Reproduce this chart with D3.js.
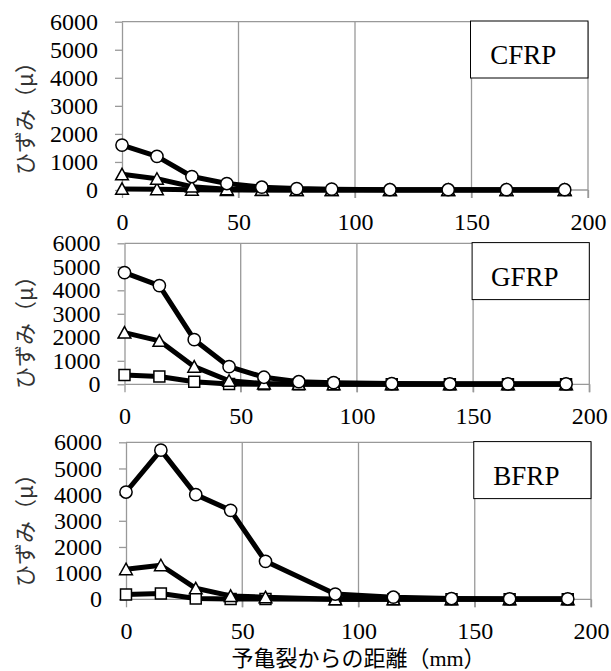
<!DOCTYPE html>
<html>
  <head>
    <meta charset="utf-8">
    <title>ひずみ分布</title>
    <script src="https://cdn.jsdelivr.net/npm/d3@7/dist/d3.min.js"></script>
    <style>
      html, body {
        margin:0;
        padding:0;
        background:#fff;
      }
    </style>
  </head>
  <body>
    <svg id="chart" width="611" height="671"></svg>

    <script>
      // distance from the pre-crack (mm)
      var distance = [0, 15, 30, 45, 60, 75, 90, 115, 140, 165, 190];
      var distanceB = [0, 15, 30, 45, 60, 90, 115, 140, 165, 190];

      // strain (μ)
      var cfrpLow  = [40, 30, 10, 0, 0, 0, 0, 0, 0, 0, 0];
      var cfrpMid  = [560, 400, 120, 30, 10, 0, 0, 0, 0, 0, 0];
      var cfrpHigh = [1600, 1200, 480, 230, 100, 50, 30, 10, 10, 10, 10];

      var gfrpLow  = [400, 330, 110, 10, 0, 0, 0, 0, 0, 0, 0];
      var gfrpMid  = [2200, 1850, 750, 150, 30, 10, 0, 0, 0, 0, 0];
      var gfrpHigh = [4750, 4200, 1900, 750, 300, 110, 70, 30, 20, 20, 20];

      var bfrpLow  = [180, 220, 30, 10, 10, 0, 0, 0, 0, 0];
      var bfrpMid  = [1150, 1300, 420, 130, 80, 0, 0, 0, 0, 0];
      var bfrpHigh = [4100, 5700, 4000, 3400, 1450, 200, 80, 30, 20, 20];

      var yTicks = [0, 1000, 2000, 3000, 4000, 5000, 6000];
      var xTicks = [0, 50, 100, 150, 200];
      var panelNames = ["CFRP", "GFRP", "BFRP"];
      var yLabel = "ひずみ（μ）";
      var xLabel = "予亀裂からの距離（mm）";

      var panels = [
        { name: panelNames[0], xs: distance, left: 122, right: 588, top: 21.7, bottom: 190, labelY: 113,
          series: [ { v: cfrpLow, m: "triangle" }, { v: cfrpMid, m: "triangle" }, { v: cfrpHigh, m: "circle" } ] },
        { name: panelNames[1], xs: distance, left: 124.5, right: 589.3, top: 243.3, bottom: 384.3, labelY: 327,
          series: [ { v: gfrpLow, m: "square" }, { v: gfrpMid, m: "triangle" }, { v: gfrpHigh, m: "circle" } ] },
        { name: panelNames[2], xs: distanceB, left: 126, right: 591, top: 442.3, bottom: 599.3, labelY: 525,
          series: [ { v: bfrpLow, m: "square" }, { v: bfrpMid, m: "triangle" }, { v: bfrpHigh, m: "circle" } ] }
      ];

      var serif = '"Liberation Serif", "Times New Roman", serif';

      // triangle centred on its bounding box, like Excel
      var triangle = {
        draw: function(ctx, size) {
          var h = Math.sqrt(size);
          ctx.moveTo(0, -h * 0.55);
          ctx.lineTo(h * 0.58, h * 0.5);
          ctx.lineTo(-h * 0.58, h * 0.5);
          ctx.closePath();
        }
      };
      var symbols = {
        circle: d3.symbol().type(d3.symbolCircle).size(118),
        square: d3.symbol().type(d3.symbolSquare).size(120),
        triangle: d3.symbol().type(triangle).size(120)
      };

      var svg = d3.select("#chart");
      var gridColor = "#999";

      panels.forEach(function(p) {
        var x = d3.scaleLinear().domain([0, 200]).range([p.left, p.right]);
        var y = d3.scaleLinear().domain([0, 6000]).range([p.bottom, p.top]);
        var g = svg.append("g");

        // vertical gridlines, extended a little below the zero line
        g.selectAll("line.grid").data(xTicks.slice(1)).enter().append("line")
          .attr("class", "grid")
          .attr("x1", function(d) { return x(d); }).attr("x2", function(d) { return x(d); })
          .attr("y1", p.top).attr("y2", p.bottom + 8)
          .attr("stroke", gridColor).attr("stroke-width", 1.3);

        // top border
        g.append("line")
          .attr("x1", p.left).attr("x2", p.right)
          .attr("y1", p.top).attr("y2", p.top)
          .attr("stroke", gridColor).attr("stroke-width", 1.3);

        // zero line
        g.append("line")
          .attr("x1", p.left).attr("x2", p.right)
          .attr("y1", y(0)).attr("y2", y(0))
          .attr("stroke", gridColor).attr("stroke-width", 1.3);

        var yAxis = g.append("g")
          .attr("transform", "translate(" + p.left + ",0)")
          .call(d3.axisLeft(y).tickValues(yTicks).tickFormat(d3.format("d"))
            .tickSize(7).tickSizeOuter(0).tickPadding(17));
        var xAxis = g.append("g")
          .attr("transform", "translate(0," + p.bottom + ")")
          .call(d3.axisBottom(x).tickValues(xTicks).tickFormat(d3.format("d"))
            .tickSize(8).tickSizeOuter(0).tickPadding(15));

        [yAxis, xAxis].forEach(function(a) {
          a.attr("font-family", serif).attr("font-size", 24);
          a.select(".domain").attr("stroke", gridColor).attr("stroke-width", 1.3);
          a.selectAll(".tick line").attr("stroke", gridColor).attr("stroke-width", 1.3);
          a.selectAll(".tick text")
            .attr("fill", "#000")
            .style("font-family", serif);
        });
        xAxis.select(".domain").remove();

        // series: line then markers
        var line = d3.line()
          .x(function(d, i) { return x(p.xs[i]); })
          .y(function(d) { return y(d); });

        p.series.forEach(function(s) {
          g.append("path")
            .datum(s.v)
            .attr("d", line)
            .attr("fill", "none")
            .attr("stroke", "#000")
            .attr("stroke-width", 5)
            .attr("stroke-linejoin", "round");

          g.selectAll(null).data(s.v).enter().append("path")
            .attr("d", symbols[s.m])
            .attr("transform", function(d, i) { return "translate(" + x(p.xs[i]) + "," + y(d) + ")"; })
            .attr("fill", "#fff")
            .attr("stroke", "#000")
            .attr("stroke-width", 1.5);
        });

        // name box in the top-right corner
        var bx = x(150) - 1, bw = p.right - bx, by = p.top - 0.7, bh = 57;
        g.append("rect")
          .attr("x", bx).attr("y", by).attr("width", bw).attr("height", bh)
          .attr("fill", "#fff").attr("stroke", "#000").attr("stroke-width", 1);
        g.append("text")
          .attr("x", bx + bw / 2 - 6).attr("y", by + 43)
          .attr("text-anchor", "middle")
          .attr("font-family", serif)
          .attr("font-size", 27)
          .text(p.name);

        // y label
        g.append("text")
          .attr("transform", "translate(25," + p.labelY + ") rotate(-90)")
          .attr("text-anchor", "middle")
          .attr("dy", "0.35em")
          .attr("fill", "#333")
          .attr("font-family", '"Noto Sans CJK JP", sans-serif')
          .attr("font-size", 22)
          .text(yLabel);
      });

      svg.append("text")
        .attr("x", (panels[2].left + panels[2].right) / 2)
        .attr("y", 666)
        .attr("text-anchor", "middle")
        .attr("font-family", '"Liberation Serif", "Noto Sans CJK JP", serif')
        .attr("font-size", 22)
        .text(xLabel);
    </script>
  </body>
</html>
